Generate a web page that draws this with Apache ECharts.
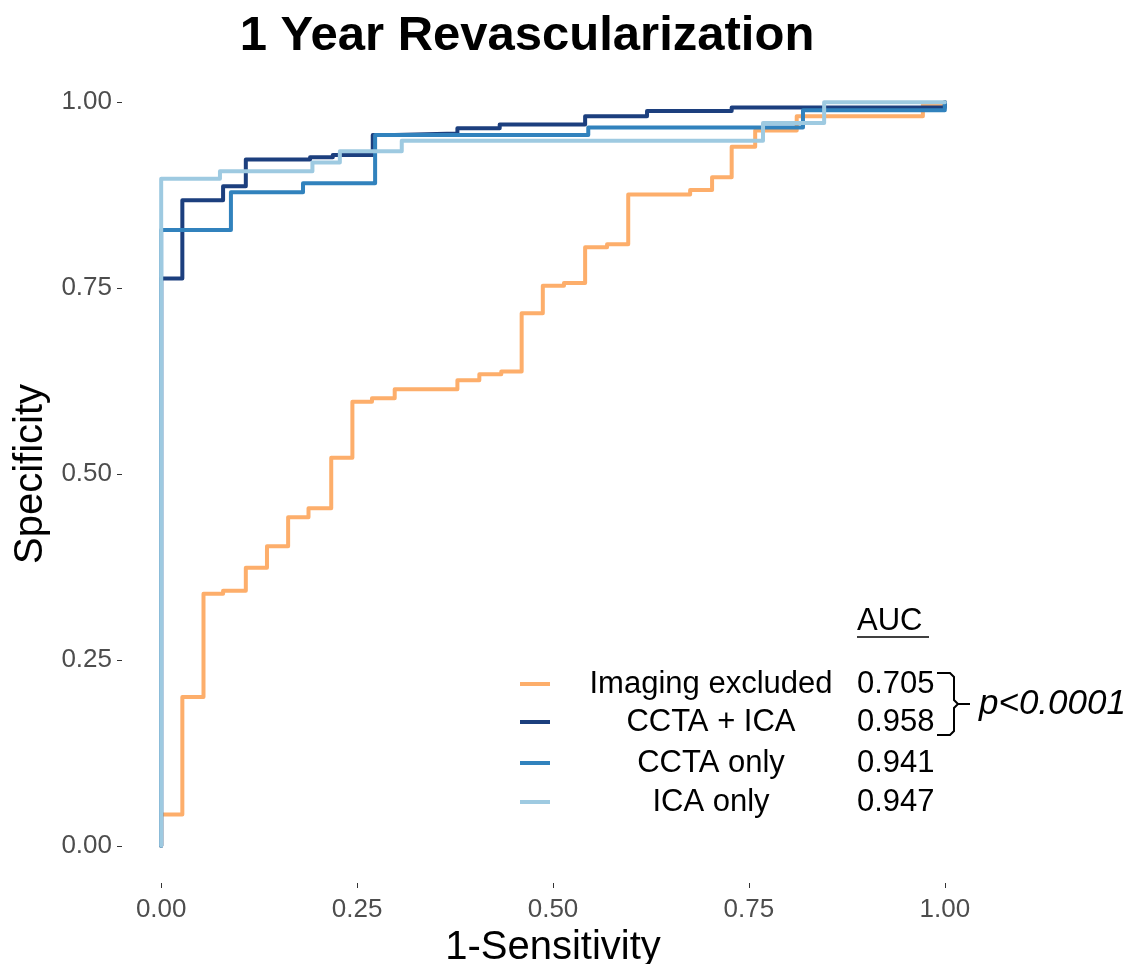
<!DOCTYPE html>
<html>
<head>
<meta charset="utf-8">
<script src="https://cdn.jsdelivr.net/npm/echarts@6/dist/echarts.min.js"></script>
<style>
  html, body { margin: 0; padding: 0; background: #fff; }
  #chart { width: 1146px; height: 964px; }
</style>
</head>
<body>
<div id="chart"></div>
<script>
// ROC step curves: [1-Sensitivity, Specificity]
const imagingExcluded = [
  [0, 0], [0, 0.042], [0.027, 0.042], [0.027, 0.2], [0.054, 0.2], [0.054, 0.339],
  [0.079, 0.339], [0.079, 0.343], [0.108, 0.343], [0.108, 0.374], [0.135, 0.374],
  [0.135, 0.403], [0.162, 0.403], [0.162, 0.442], [0.188, 0.442], [0.188, 0.454],
  [0.217, 0.454], [0.217, 0.522], [0.244, 0.522], [0.244, 0.597], [0.269, 0.597],
  [0.269, 0.602], [0.298, 0.602], [0.298, 0.614], [0.378, 0.614], [0.378, 0.626],
  [0.406, 0.626], [0.406, 0.634], [0.434, 0.634], [0.434, 0.638], [0.46, 0.638],
  [0.46, 0.716], [0.487, 0.716], [0.487, 0.753], [0.514, 0.753], [0.514, 0.757],
  [0.541, 0.757], [0.541, 0.805], [0.569, 0.805], [0.569, 0.809], [0.596, 0.809],
  [0.596, 0.876], [0.675, 0.876], [0.675, 0.882], [0.703, 0.882], [0.703, 0.899],
  [0.728, 0.899], [0.728, 0.94], [0.758, 0.94], [0.758, 0.962], [0.811, 0.962],
  [0.811, 0.981], [0.972, 0.981], [0.972, 0.997], [1, 0.997], [1, 1]
];
const cctaIca = [
  [0, 0], [0, 0.763], [0.027, 0.763], [0.027, 0.868], [0.079, 0.868], [0.079, 0.887],
  [0.108, 0.887], [0.108, 0.923], [0.19, 0.923], [0.19, 0.926], [0.219, 0.926],
  [0.219, 0.929], [0.27, 0.929], [0.27, 0.956], [0.298, 0.956], [0.298, 0.958],
  [0.378, 0.958], [0.378, 0.965], [0.432, 0.965], [0.432, 0.97], [0.541, 0.97],
  [0.541, 0.981], [0.62, 0.981], [0.62, 0.988], [0.728, 0.988], [0.728, 0.993],
  [1, 0.993], [1, 1]
];
const cctaOnly = [
  [0, 0], [0, 0.828], [0.089, 0.828], [0.089, 0.879], [0.181, 0.879], [0.181, 0.891],
  [0.273, 0.891], [0.273, 0.956], [0.545, 0.956], [0.545, 0.966], [0.819, 0.966],
  [0.819, 0.989], [1, 0.989], [1, 1]
];
const icaOnly = [
  [0, 0], [0, 0.897], [0.075, 0.897], [0.075, 0.907], [0.193, 0.907], [0.193, 0.919],
  [0.228, 0.919], [0.228, 0.934], [0.307, 0.934], [0.307, 0.948], [0.768, 0.948],
  [0.768, 0.972], [0.846, 0.972], [0.846, 1], [1, 1]
];

const seriesNames = ["Imaging excluded", "CCTA + ICA", "CCTA only", "ICA only"];
const aucValues = ["0.705", "0.958", "0.941", "0.947"];
const colors = ["#fdae6b", "#1c3f7e", "#3182bd", "#9ecae1"];
const tickValues = [0, 0.25, 0.5, 0.75, 1];

const curves = [imagingExcluded, cctaIca, cctaOnly, icaOnly];

const chart = echarts.init(document.getElementById("chart"));
const font = "Liberation Sans, Arial, sans-serif";

const axisCommon = {
  type: "value",
  min: -0.05,
  max: 1.05,
  axisLine: { show: false, onZero: false },
  splitLine: { show: false },
  axisTick: {
    show: true,
    customValues: tickValues,
    length: 5,
    lineStyle: { color: "#333", width: 1 },
  },
  axisLabel: {
    customValues: tickValues,
    formatter: (v) => v.toFixed(2),
    color: "#4d4d4d",
    fontSize: 26,
    fontFamily: font,
    margin: 10,
  },
  nameLocation: "middle",
  nameTextStyle: { color: "#000", fontSize: 40, fontFamily: font },
};

// legend block drawn as graphic elements
const legendX = 520;
const legendRows = [684, 722, 763, 802];
const legendGraphics = [];
legendRows.forEach((y, i) => {
  legendGraphics.push({
    type: "line",
    shape: { x1: legendX, y1: y, x2: legendX + 30, y2: y },
    style: { stroke: colors[i], lineWidth: 4 },
  });
  legendGraphics.push({
    type: "text",
    x: 711,
    y: y,
    style: {
      text: seriesNames[i],
      font: "31px " + font,
      fill: "#000",
      align: "center",
      verticalAlign: "middle",
    },
  });
  legendGraphics.push({
    type: "text",
    x: 857,
    y: y,
    style: {
      text: aucValues[i],
      font: "31px " + font,
      fill: "#000",
      align: "left",
      verticalAlign: "middle",
    },
  });
});
legendGraphics.push(
  {
    type: "text",
    x: 857,
    y: 621,
    style: { text: "AUC", font: "31px " + font, fill: "#000", verticalAlign: "middle" },
  },
  {
    type: "line",
    shape: { x1: 857, y1: 637, x2: 929, y2: 637 },
    style: { stroke: "#000", lineWidth: 1.5 },
  },
  {
    type: "polyline",
    shape: { points: [[937, 673], [950, 673], [954, 677], [954, 700], [958, 704], [954, 708], [954, 731], [950, 735], [937, 735]] },
    style: { stroke: "#000", lineWidth: 2, fill: null },
  },
  {
    type: "line",
    shape: { x1: 958, y1: 704, x2: 970, y2: 704 },
    style: { stroke: "#000", lineWidth: 2 },
  },
  {
    type: "text",
    x: 979,
    y: 704,
    style: { text: "p<0.0001", font: "italic 35px " + font, fill: "#000", verticalAlign: "middle" },
  }
);

const option = {
  backgroundColor: "#fff",
  animation: false,
  title: {
    text: "1 Year Revascularization",
    left: 522,
    top: 7,
    textAlign: "center",
    textStyle: { fontSize: 49, fontWeight: "bold", color: "#000", fontFamily: font },
  },
  grid: { left: 122, right: 162, top: 65, bottom: 81, outerBoundsMode: "none" },
  xAxis: Object.assign({}, axisCommon, {
    name: "1-Sensitivity",
    nameGap: 44,
    axisLabel: Object.assign({}, axisCommon.axisLabel, { margin: 14 }),
  }),
  yAxis: Object.assign({}, axisCommon, { name: "Specificity", nameGap: 68 }),
  series: curves.map((data, i) => ({
    name: seriesNames[i],
    type: "line",
    data: data,
    showSymbol: false,
    lineStyle: { color: colors[i], width: 4, cap: "round", join: "round" },
    itemStyle: { color: colors[i] },
  })),
  graphic: legendGraphics,
};

chart.setOption(option);
</script>
</body>
</html>
